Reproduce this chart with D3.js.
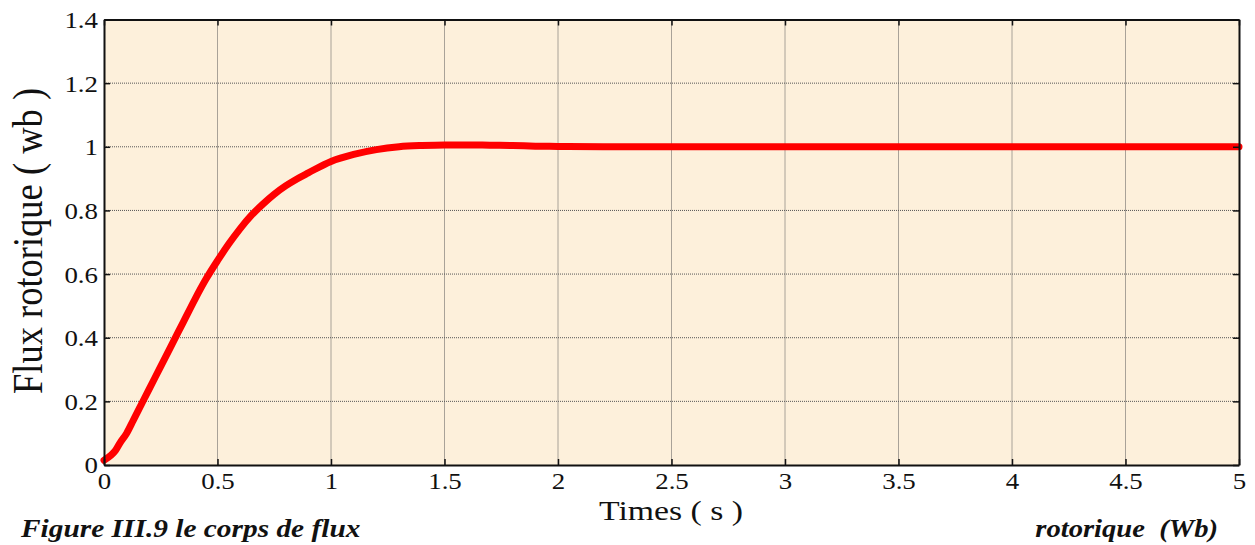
<!DOCTYPE html>
<html><head><meta charset="utf-8">
<script src="https://cdn.jsdelivr.net/npm/d3@7/dist/d3.min.js"></script>
<style>body{margin:0;background:#fff}svg{display:block}</style>
</head><body>
<svg id="c" width="1255" height="545"></svg>
<script>
const timeVals = [0, 0.03, 0.05, 0.07, 0.1, 0.13, 0.15, 0.2, 0.25, 0.3, 0.35, 0.4, 0.45, 0.5, 0.55, 0.6, 0.65, 0.7, 0.75, 0.8, 0.85, 0.9, 1.0, 1.1, 1.2, 1.3, 1.4, 1.5, 1.6, 1.7, 1.8, 1.9, 2.0, 2.2, 2.5, 3.0, 3.5, 4.0, 4.5, 5.0];
const fluxVals = [0.015, 0.03, 0.045, 0.069, 0.1, 0.142, 0.17, 0.24, 0.31, 0.38, 0.45, 0.52, 0.585, 0.642, 0.695, 0.743, 0.785, 0.82, 0.851, 0.877, 0.899, 0.918, 0.954, 0.976, 0.991, 1.0, 1.004, 1.006, 1.006, 1.005, 1.004, 1.002, 1.001, 1.0, 1.0, 1.0, 1.0, 1.0, 1.0, 1.0];
const xTicks = [0, 0.5, 1, 1.5, 2, 2.5, 3, 3.5, 4, 4.5, 5];
const yTicks = [0, 0.2, 0.4, 0.6, 0.8, 1, 1.2, 1.4];

const svg = d3.select("#c");
const L = 104, R = 1239, T = 19.5, B = 465;
const x = d3.scaleLinear().domain([0, 5]).range([L, R]);
const y = d3.scaleLinear().domain([0, 1.4]).range([B, T]);
const font = "'Liberation Serif','Times New Roman',serif";

svg.append("rect").attr("x", L).attr("y", T).attr("width", R - L).attr("height", B - T).attr("fill", "#fdf0db");

// grid
const g = svg.append("g");
g.selectAll(".gx").data(xTicks.slice(1, -1)).join("line")
  .attr("x1", d => x(d)).attr("x2", d => x(d)).attr("y1", T).attr("y2", B)
  .attr("stroke", "#555").attr("stroke-width", 1).attr("stroke-dasharray", "1,1");
g.selectAll(".gy").data(yTicks.slice(1, -1)).join("line")
  .attr("y1", d => y(d)).attr("y2", d => y(d)).attr("x1", L).attr("x2", R)
  .attr("stroke", "#555").attr("stroke-width", 1).attr("stroke-dasharray", "1,1");

// curve
const pts = timeVals.map((t, i) => [t, fluxVals[i]]);
svg.append("path").datum(pts)
  .attr("d", d3.line().x(d => x(d[0])).y(d => y(d[1])).curve(d3.curveMonotoneX))
  .attr("fill", "none").attr("stroke", "#ff0000").attr("stroke-width", 7)
  .attr("stroke-linejoin", "round").attr("stroke-linecap", "round");

// axes (ticks inward)
const axB = svg.append("g").attr("transform", `translate(0,${B})`)
  .call(d3.axisBottom(x).tickValues(xTicks).tickFormat(d => d).tickSizeInner(-6).tickSizeOuter(0));
const axT = svg.append("g").attr("transform", `translate(0,${T})`)
  .call(d3.axisTop(x).tickValues(xTicks).tickFormat("").tickSizeInner(-6).tickSizeOuter(0));
const axL = svg.append("g").attr("transform", `translate(${L},0)`)
  .call(d3.axisLeft(y).tickValues(yTicks).tickFormat(d => d).tickSizeInner(-6).tickSizeOuter(0));
const axR = svg.append("g").attr("transform", `translate(${R},0)`)
  .call(d3.axisRight(y).tickValues(yTicks).tickFormat("").tickSizeInner(-6).tickSizeOuter(0));
[axB, axT, axL, axR].forEach(a => {
  a.attr("font-family", null);
  a.select(".domain").attr("stroke", "#111").attr("stroke-width", 2);
  a.selectAll(".tick line").attr("stroke", "#111").attr("stroke-width", 1.5);
  a.selectAll("text").style("font-family", font).style("font-size", "24px").attr("fill", "#111");
});
axB.selectAll("text").attr("y", 0).attr("dy", 0).attr("transform", "translate(0,24) scale(1.12,1)");
axL.selectAll("text").attr("x", 0).attr("dy", "0.33em").attr("transform", "translate(-6,0) scale(1.12,1)");

// labels
svg.append("text").attr("transform", "translate(42,241) rotate(-90) scale(1,1.15)")
  .attr("text-anchor", "middle").style("font-family", font).style("font-size", "36.5px").attr("fill", "#111")
  .text("Flux rotorique ( wb )");
svg.append("text").attr("transform", "translate(671,520) scale(1.25,1)").attr("text-anchor", "middle")
  .style("font-family", font).style("font-size", "27px").attr("fill", "#111").text("Times ( s )");
svg.append("text").attr("transform", "translate(21,537) scale(1.13,1)")
  .style("font-family", font).style("font-size", "26px").attr("font-weight", "bold").attr("font-style", "italic")
  .attr("fill", "#111").text("Figure III.9 le corps de flux");
svg.append("text").attr("transform", "translate(1218,537) scale(1.1,1)").attr("text-anchor", "end")
  .style("font-family", font).style("font-size", "26px").attr("font-weight", "bold").attr("font-style", "italic")
  .attr("fill", "#111").style("white-space", "pre").text("rotorique  (Wb)");
</script>
</body></html>
